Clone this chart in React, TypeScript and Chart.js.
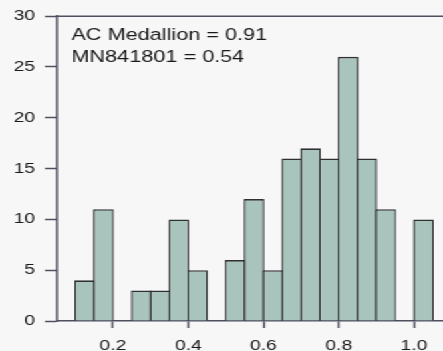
import React, { useEffect, useRef } from "react";
import { Chart, registerables } from "chart.js";

Chart.register(...registerables);

const binCenters = [0.125, 0.175, 0.225, 0.275, 0.325, 0.375, 0.425, 0.475, 0.525, 0.575, 0.625, 0.675, 0.725, 0.775, 0.825, 0.875, 0.925, 0.975, 1.025];
const counts = [4, 11, 0, 3, 3, 10, 5, 0, 6, 12, 5, 16, 17, 16, 26, 16, 11, 0, 10];
const xTickValues = [0.2, 0.4, 0.6, 0.8, 1.0];
const annotationLines = ["AC Medallion = 0.91", "MN841801 = 0.54"];

const SX = 443 / 333;
const FONT = "'Liberation Sans', Arial, Helvetica, sans-serif";
const AXIS = "#4e4f60";
const X_MIN = 0.0512;
const X_MAX = 1.0771;
const BAR_BORDER = 1.4;

export default function App() {
  const ref = useRef<HTMLCanvasElement | null>(null);

  useEffect(() => {
    if (!ref.current) return;
    const bgPlugin = {
      id: "bg",
      beforeDraw(chart: any) {
        const { ctx, width, height } = chart;
        ctx.save();
        ctx.fillStyle = "#f7f7f7";
        ctx.fillRect(0, 0, width, height);
        ctx.restore();
      },
    };
    const framePlugin = {
      id: "frame",
      afterDraw(chart: any) {
        const { ctx, chartArea } = chart;
        ctx.save();
        ctx.strokeStyle = AXIS;
        ctx.lineWidth = 1.5;
        ctx.beginPath();
        ctx.moveTo(chartArea.left, chartArea.top);
        ctx.lineTo(chartArea.right, chartArea.top);
        ctx.stroke();
        ctx.fillStyle = "#1a1a1a";
        ctx.font = `16.3px ${FONT}`;
        ctx.textBaseline = "alphabetic";
        ctx.textAlign = "left";
        annotationLines.forEach((t, i) => {
          ctx.fillText(t, 71.5 / SX, 40 + i * 22);
        });
        ctx.restore();
      },
    };
    const data = binCenters.map((x, i) => ({ x, y: counts[i] }));
    const binPx = (0.05 * (333 - 57 / SX)) / (X_MAX - X_MIN);
    const chart = new Chart(ref.current, {
      type: "bar",
      data: {
        datasets: [
          {
            data,
            backgroundColor: "#a8c4bc",
            borderColor: "#2f3032",
            inflateAmount: 0,
            borderSkipped: false,
            borderWidth: (c: any) => {
              const i = c.dataIndex;
              if (!counts[i]) return 0;
              return { left: BAR_BORDER, top: 1.6, right: BAR_BORDER, bottom: 0 };
            },
            barPercentage: 1 + BAR_BORDER / binPx,
            categoryPercentage: 1,
          } as any,
        ],
      },
      options: {
        animation: false,
        responsive: false,
        devicePixelRatio: 1,
        layout: { padding: { top: 16, right: 0, left: 0, bottom: 0 } },
        plugins: { legend: { display: false }, tooltip: { enabled: false } },
        scales: {
          x: {
            type: "linear",
            offset: false,
            min: X_MIN,
            max: X_MAX,
            afterBuildTicks: (s: any) => {
              s.ticks = xTickValues.map((v) => ({ value: v }));
            },
            afterFit: (s: any) => {
              s.height = 30;
            },
            grid: { offset: false, drawOnChartArea: false, drawTicks: true, tickLength: 7, tickColor: AXIS, tickWidth: 1.5 },
            border: { display: true, color: AXIS, width: 1.5 },
            ticks: {
              autoSkip: false,
              maxRotation: 0,
              padding: 9.5,
              color: "#1a1a1a",
              font: { family: FONT, size: 14.5 },
              callback: (v: any) => Number(v).toFixed(1),
            },
          },
          y: {
            min: 0,
            max: 30,
            afterFit: (s: any) => {
              s.width = 57 / SX;
            },
            grid: { drawOnChartArea: false, drawTicks: true, tickLength: 9, tickColor: AXIS, tickWidth: 1.5 },
            border: { display: true, color: AXIS, width: 1.5 },
            ticks: {
              stepSize: 5,
              padding: 7.5,
              color: "#1a1a1a",
              font: { family: FONT, size: 14.5 },
            },
          },
        },
      },
      plugins: [bgPlugin, framePlugin],
    } as any);
    return () => chart.destroy();
  }, []);

  return (
    <div
      style={{
        position: "fixed",
        left: 0,
        top: 0,
        width: 333,
        height: 351,
        transform: `scaleX(${SX})`,
        transformOrigin: "0 0",
        background: "#f7f7f7",
      }}
    >
      <canvas ref={ref} width={333} height={351} style={{ display: "block" }} />
    </div>
  );
}
